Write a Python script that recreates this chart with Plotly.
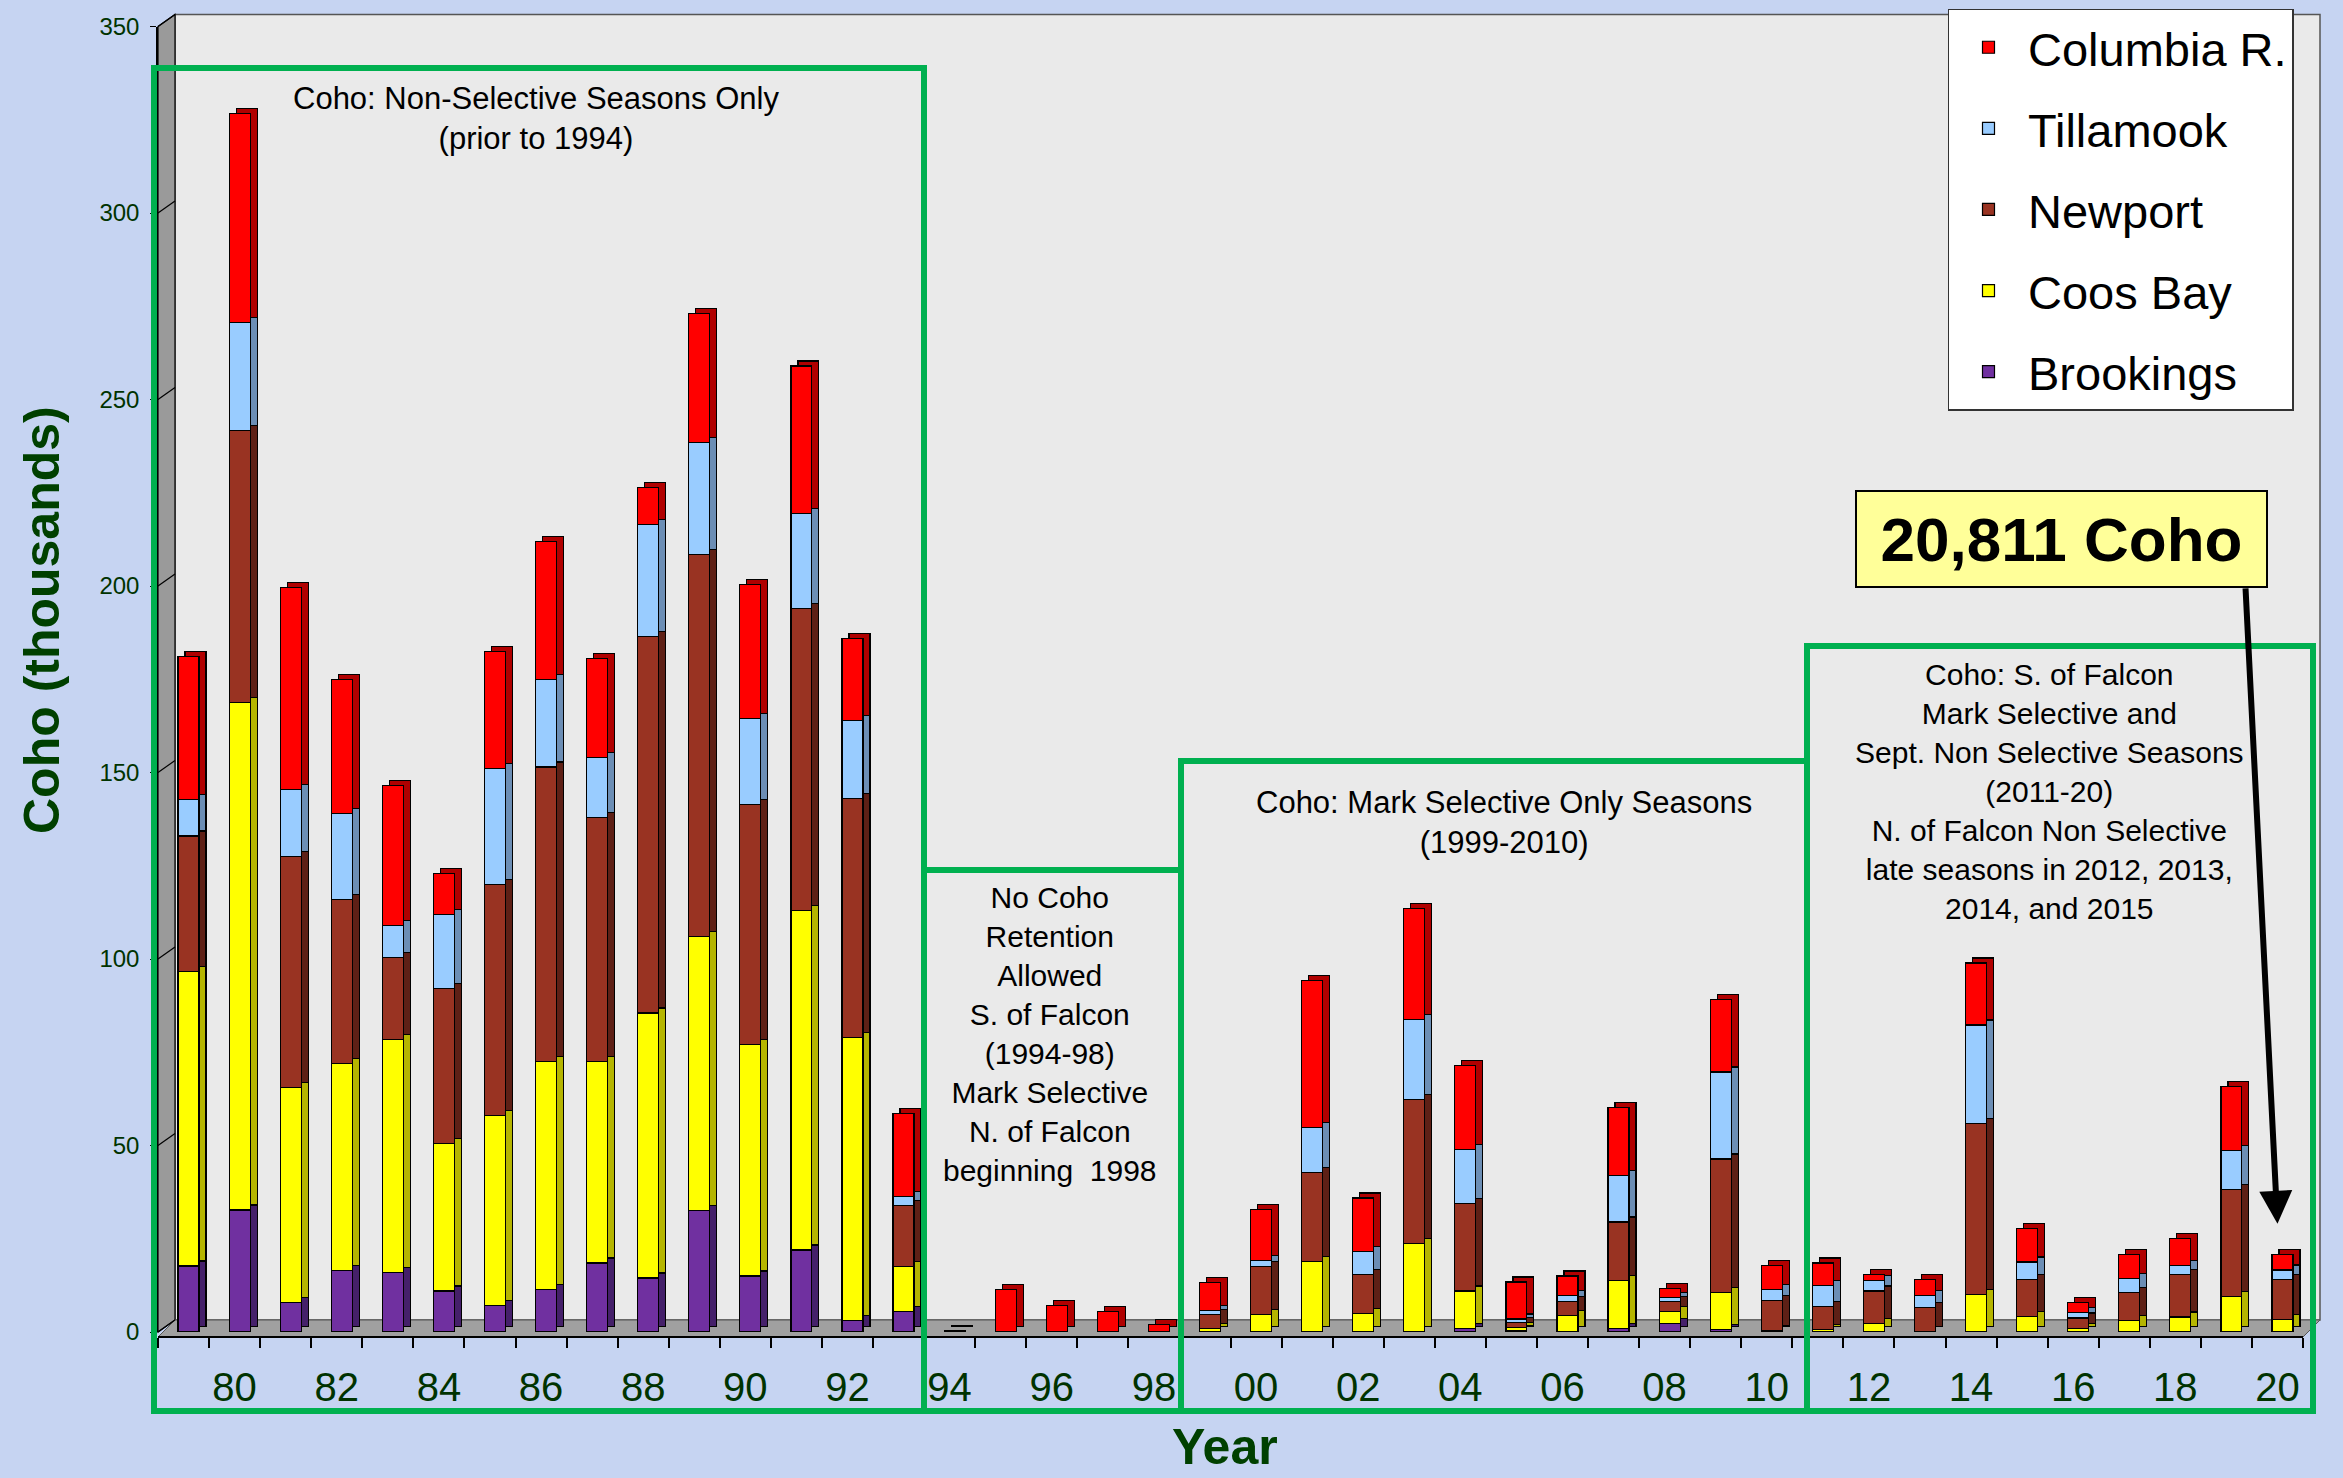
import plotly.graph_objects as go

W, H = 2343, 1478

years = list(range(1979, 2021))
year_labels = [f"{y % 100:02d}" for y in years if y % 2 == 0]
label_years = [y for y in years if y % 2 == 0]

# thousands of coho (1979-2020)
brookings = [17.7, 32.7, 8, 16.5, 16, 11, 7, 11.5, 18.5, 14.5, 32.5, 15, 22, 3, 5.5,
             0, 0, 0, 0, 0,
             0, 0, 0, 0, 0, 1, 0.3, 0, 1, 2.3, 0.75, 0,
             0, 0, 0, 0, 0, 0, 0, 0, 0, 0]
coos_bay = [79, 136, 57.5, 55.5, 62.5, 39.5, 51, 61, 54, 71, 73.5, 62, 91, 76, 12,
            0, 0, 0, 0, 0,
            1, 4.8, 19, 5, 23.7, 10, 0.9, 4.5, 12.8, 3.2, 9.75, 0.4,
            0.75, 2.25, 0, 10, 4.2, 1, 3, 4, 9.6, 3.3]
newport = [36.3, 73, 62, 44, 22, 41.5, 62, 79, 65.5, 101, 102.5, 64.5, 81, 64, 16.5,
           0, 0, 0, 0, 0,
           3.8, 12.7, 23.75, 10.5, 38.7, 23.4, 1.3, 3.75, 15.7, 2.75, 35.9, 8,
           6, 8.75, 6.5, 45.8, 9.9, 2.75, 7.5, 11.45, 28.5, 10.7]
tillamook = [9.7, 29, 18, 23, 8.5, 20, 31, 23.5, 16, 30, 30, 23, 25.5, 21, 2.3,
             0, 0, 0, 0, 0,
             1, 1.7, 12, 6, 21.3, 14.5, 1, 1.5, 12.4, 1, 23.3, 3.1,
             5.75, 2.8, 3.3, 26.5, 4.65, 1.5, 3.75, 2.4, 10.5, 2.65]
columbia = [38.3, 56, 54, 36, 37.5, 11, 31.5, 37, 26.5, 10, 34.5, 36, 39.5, 22, 22.3,
            0.3, 11.5, 7, 5.5, 2,
            7.5, 13.6, 39.5, 14.4, 29.9, 22.6, 9.9, 5.25, 18.3, 2.4, 19.5, 6.4,
            6, 1.7, 4.2, 16.65, 9, 2.75, 6.45, 7.2, 17.25, 4.2]

# name, values, face colour, side colour, legend rank
series = [
    ("Brookings", brookings, "#7030A0", "#45206A", 5),
    ("Coos Bay", coos_bay, "#FFFF00", "#B5B500", 4),
    ("Newport", newport, "#993322", "#5E2016", 3),
    ("Tillamook", tillamook, "#99CCFF", "#6C8EB5", 2),
    ("Columbia R.", columbia, "#FF0000", "#B00000", 1),
]

y_ticks = [0, 50, 100, 150, 200, 250, 300, 350]
FONT = "Liberation Sans, Arial, sans-serif"
GREEN = "#00B050"
DARK = "#003300"
BG = "#C6D4F2"


def fx(px):
    return px / W


def fy(py):
    return 1 - py / H


# pixel frame of the front face, the bar depth and the back wall
FX0, FX1, FY0, FY1 = 158, 2303, 26.5, 1332
DX, DY = 7, -5
WX, WY = 17, -12

fig = go.Figure()

bar_w, bar_off = 0.411, -0.1075
for name, vals, col, side, rank in series:
    # darker copy pushed back a few pixels gives the side/top faces
    fig.add_trace(go.Bar(x=years, y=vals, xaxis="x2", yaxis="y2", marker_color=side,
                         marker_line=dict(color="black", width=1.2), width=bar_w,
                         offset=bar_off, showlegend=False, hoverinfo="skip"))
for name, vals, col, side, rank in series:
    fig.add_trace(go.Bar(x=years, y=vals, xaxis="x3", yaxis="y3", name=name,
                         legendgroup=name, legendrank=rank, marker_color=col,
                         marker_line=dict(color="black", width=1.2), width=bar_w,
                         offset=bar_off))

xr = [1978.5, 2020.5]
fig.update_layout(
    template="none",
    width=W, height=H,
    margin=dict(l=0, r=0, t=0, b=0, pad=0),
    paper_bgcolor=BG,
    plot_bgcolor="rgba(0,0,0,0)",
    barmode="stack",
    font=dict(family=FONT, color="black"),
    # back wall (gridlines only)
    xaxis=dict(domain=[fx(FX0 + WX), fx(FX1 + WX)], range=xr, visible=False, anchor="y",
               automargin=False),
    yaxis=dict(domain=[fy(FY1 + WY), fy(FY0 + WY)], range=[0, 350], anchor="x",
               tickvals=y_ticks[1:-1], showticklabels=False, ticks="", automargin=False,
               showgrid=True, gridcolor="black", gridwidth=1.5, zeroline=False),
    # bar depth
    xaxis2=dict(domain=[fx(FX0 + DX), fx(FX1 + DX)], range=xr, visible=False, anchor="y2",
                automargin=False),
    yaxis2=dict(domain=[fy(FY1 + DY), fy(FY0 + DY)], range=[0, 350], visible=False,
                anchor="x2", automargin=False),
    # front face with the visible axes
    xaxis3=dict(domain=[fx(FX0), fx(FX1)], range=xr, anchor="free", position=fy(1337),
                tickmode="array", tickvals=label_years, ticktext=year_labels, ticks="",
                tickfont=dict(size=40, color=DARK), ticklabelstandoff=15, automargin=False,
                showline=True, linecolor="black", linewidth=2, showgrid=False, zeroline=False,
                minor=dict(tickmode="array", tickvals=[y + 0.5 for y in [1978] + years],
                           ticks="outside", ticklen=10, tickcolor="black", tickwidth=1.5,
                           showgrid=False)),
    yaxis3=dict(domain=[fy(FY1), fy(FY0)], range=[0, 350], anchor="x3",
                tickvals=y_ticks, ticks="outside", ticklen=6, tickcolor="black",
                tickfont=dict(size=24, color=DARK), ticklabelstandoff=6, automargin=False,
                showline=True, linecolor="black", linewidth=1.5,
                showgrid=False, zeroline=False),
    legend=dict(x=fx(1947.5), y=fy(8.7), xanchor="left", yanchor="top",
                bgcolor="white", bordercolor="#333333", borderwidth=1.5,
                font=dict(size=47, family=FONT), traceorder="grouped",
                tracegroupgap=17, itemwidth=69),
)

# walls and floor
k_front = (FY1 - FY0) / 350
shapes = [
    dict(type="rect", xref="paper", yref="paper", layer="below",
         x0=fx(FX0 + WX), x1=fx(FX1 + WX), y0=fy(FY1 + WY), y1=fy(FY0 + WY),
         fillcolor="#EAEAEA", line=dict(color="#555555", width=1.5)),
    dict(type="path", xref="paper", yref="paper", layer="below",
         path=f"M{fx(FX0)},{fy(FY0)} L{fx(FX0 + WX)},{fy(FY0 + WY)} "
              f"L{fx(FX0 + WX)},{fy(FY1 + WY)} L{fx(FX0)},{fy(FY1)} Z",
         fillcolor="#9A9A9A", line=dict(color="black", width=1.2)),
    dict(type="path", xref="paper", yref="paper", layer="below",
         path=f"M{fx(FX0)},{fy(1337)} L{fx(FX1)},{fy(1337)} L{fx(FX1 + WX)},{fy(FY1 + WY)} "
              f"L{fx(FX0 + WX)},{fy(FY1 + WY)} Z",
         fillcolor="#A0A0A0", line=dict(color="#555555", width=1)),
]
for v in y_ticks:
    shapes.append(dict(type="line", xref="paper", yref="paper", layer="below",
                       x0=fx(FX0), y0=fy(FY1 - v * k_front),
                       x1=fx(FX0 + WX), y1=fy(FY1 + WY - v * k_front),
                       line=dict(color="black", width=1.2)))

# season boxes (pixel frame)
boxes = [(154, 68, 924, 1411), (924, 870, 1181, 1411),
         (1181, 761, 1807, 1411), (1807, 646, 2313, 1411)]
for x0, y0, x1, y1 in boxes:
    shapes.append(dict(type="rect", xref="paper", yref="paper", layer="above",
                       x0=fx(x0), x1=fx(x1), y0=fy(y1), y1=fy(y0),
                       line=dict(color=GREEN, width=6)))
fig.update_layout(shapes=shapes)

notes = [
    (536, 118, "Coho: Non-Selective Seasons Only<br>(prior to 1994)", 31),
    (1050, 1034, "No Coho<br>Retention<br>Allowed<br>S. of Falcon<br>(1994-98)<br>"
                 "Mark Selective<br>N. of Falcon<br>beginning  1998", 30),
    (1504, 822, "Coho: Mark Selective Only Seasons<br>(1999-2010)", 31),
    (2049, 791, "Coho: S. of Falcon<br>Mark Selective and<br>Sept. Non Selective Seasons<br>"
                "(2011-20)<br>N. of Falcon Non Selective<br>late seasons in 2012, 2013,<br>"
                "2014, and 2015", 30),
]
for px, py, txt, sz in notes:
    fig.add_annotation(x=fx(px), y=fy(py), xref="paper", yref="paper", text=txt,
                       showarrow=False, xanchor="center", yanchor="middle",
                       font=dict(size=sz, color="black"))

fig.add_annotation(x=fx(42), y=fy(620), xref="paper", yref="paper",
                   text="<b>Coho (thousands)</b>", textangle=-90, showarrow=False,
                   xanchor="center", yanchor="middle",
                   font=dict(size=50, color="#004000"))
fig.add_annotation(x=fx(1225), y=fy(1447), xref="paper", yref="paper",
                   text="<b>Year</b>", showarrow=False, xanchor="center", yanchor="middle",
                   font=dict(size=50, color="#004000"))

# call-out for 2020
fig.add_annotation(x=2020, y=29, xref="x3", yref="y3", text="", showarrow=True,
                   ax=-32, ay=-637, arrowhead=2, arrowsize=1.1, arrowwidth=6,
                   arrowcolor="black", standoff=0)
fig.add_annotation(x=fx(2061), y=fy(539.5), xref="paper", yref="paper",
                   text="<b>20,811 Coho</b>", showarrow=False,
                   xanchor="center", yanchor="middle",
                   width=393, height=78, bgcolor="#FFFF99", bordercolor="black",
                   borderwidth=2, borderpad=8, font=dict(size=62, color="black"))

fig.write_html("out.html", config={"displayModeBar": False},
               post_script=f"document.body.style.margin='0';"
                           f"document.body.style.background='{BG}';")
